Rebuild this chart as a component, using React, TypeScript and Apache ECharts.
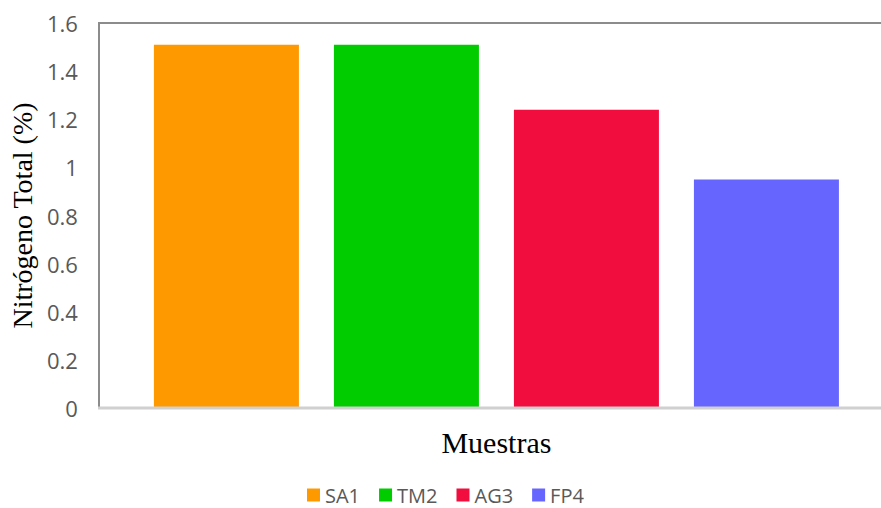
import React, { useEffect, useRef } from "react";
import * as echarts from "echarts";

const categories = ["Muestras"];
const seriesNames = ["SA1", "TM2", "AG3", "FP4"];
const seriesValues = [1.51, 1.51, 1.24, 0.95];
const seriesColors = ["#FF9900", "#00CC00", "#F20D3F", "#6666FF"];
const yTicks = { min: 0, max: 1.6, interval: 0.2 };

export default function App() {
  const ref = useRef<HTMLDivElement>(null);
  useEffect(() => {
    if (!ref.current) return;
    const chart = echarts.init(ref.current, null, { renderer: "svg" });
    chart.setOption({
      animation: false,
      backgroundColor: "#ffffff",
      grid: {
        left: 111,
        top: 23,
        bottom: 100,
        right: 0,
      },
      graphic: [
        {
          type: "line",
          shape: { x1: 98, y1: 23, x2: 881, y2: 23 },
          style: { stroke: "#8c8c8c", lineWidth: 2 },
          z: 10,
        },
        {
          type: "line",
          shape: { x1: 98, y1: 408, x2: 881, y2: 408 },
          style: { stroke: "#d0d0d0", lineWidth: 3 },
          z: 10,
        },
      ],
      legend: {
        data: seriesNames,
        left: 307,
        top: 483,
        padding: 0,
        icon: "rect",
        itemWidth: 13,
        itemHeight: 13,
        itemGap: 19,
        textStyle: {
          fontFamily: "Open Sans",
          fontSize: 20,
          color: "#595959",
          lineHeight: 24,
        },
      },
      xAxis: {
        type: "category",
        data: categories,
        name: "Muestras",
        nameLocation: "middle",
        nameGap: 19,
        nameTextStyle: {
          fontFamily: "Liberation Serif",
          fontSize: 30,
          color: "#000000",
        },
        axisLine: { show: false },
        axisTick: { show: false },
        axisLabel: { show: false },
        splitLine: { show: false },
      },
      yAxis: {
        type: "value",
        offset: 13,
        min: yTicks.min,
        max: yTicks.max,
        interval: yTicks.interval,
        name: "Nitrógeno Total (%)",
        nameLocation: "middle",
        nameGap: 60,
        nameTextStyle: {
          fontFamily: "Liberation Serif",
          fontSize: 28,
          color: "#000000",
        },
        axisLine: { show: true, lineStyle: { color: "#8c8c8c", width: 2 } },
        axisTick: { show: false },
        splitLine: { show: false },
        axisLabel: {
          margin: 21,
          fontFamily: "Open Sans",
          fontSize: 22,
          color: "#595959",
        },
      },
      series: seriesNames.map((name, i) => ({
        name,
        type: "bar",
        data: [seriesValues[i]],
        barWidth: 145,
        barGap: "24.14%",
        itemStyle: { color: seriesColors[i] },
      })),
    });
    return () => chart.dispose();
  }, []);
  return <div ref={ref} style={{ width: 881, height: 508, position: "absolute", left: 0, top: 0 }} />;
}
